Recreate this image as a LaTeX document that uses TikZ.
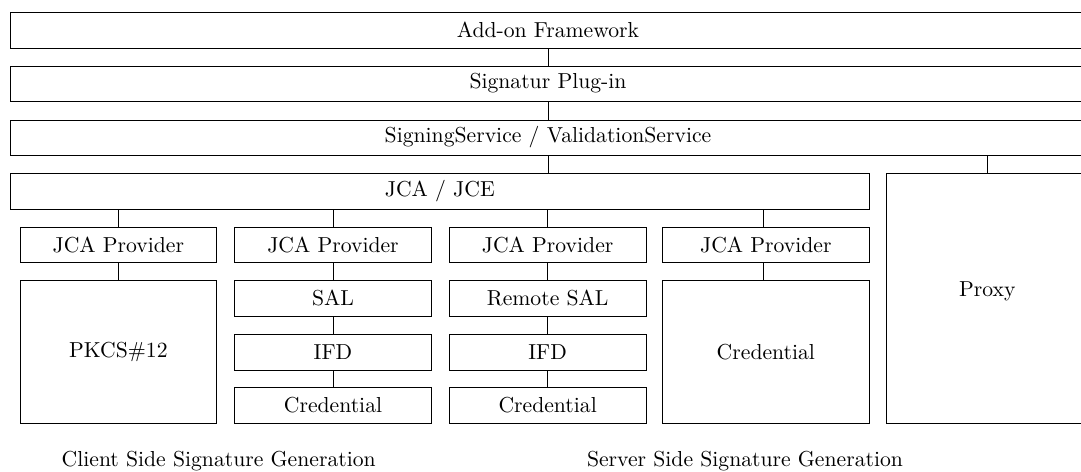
\documentclass[tikz,border=0pt]{standalone}
\usetikzlibrary{fit}
\begin{document}
\begin{tikzpicture}[x=0.4613pt, y=-0.4613pt,
  blk/.style={draw, line width=0.4pt, inner sep=0pt},
  wire/.style={line width=0.4pt}]
\clip (0,0) rectangle (1081,472);

% layered bars across the full width
\node[blk, fit={(10.7,12) (1085.3,48)},  label=center:{Add-on Framework}] (addon) {};
\node[blk, fit={(10.7,66) (1085.3,101)}, label=center:{Signatur Plug-in}] (plugin) {};
\node[blk, fit={(10.7,120) (1085.3,155)}, label=center:{SigningService / ValidationService}] (service) {};
\node[blk, fit={(10.7,173) (869,209)},   label=center:{JCA / JCE}] (jca) {};
\node[blk, fit={(886.7,173) (1088,423)}, label={[yshift=3pt]center:Proxy}] (proxy) {};

% column 1
\node[blk, fit={(20,227.3) (216.7,262.3)}, label=center:{JCA Provider}] (p1) {};
\node[blk, fit={(20,280.3) (216.7,423.3)}, label=center:{PKCS\#12}] (pkcs) {};

% column 2
\node[blk, fit={(234.3,227.3) (431.7,262.3)}, label=center:{JCA Provider}] (p2) {};
\node[blk, fit={(234.3,280.3) (431.7,316)},   label=center:{SAL}] (sal) {};
\node[blk, fit={(234.3,334.3) (431.7,370)},   label=center:{IFD}] (ifd2) {};
\node[blk, fit={(234.3,387.7) (431.7,423.3)}, label=center:{Credential}] (cred2) {};

% column 3
\node[blk, fit={(449.3,227.3) (646,262.3)}, label=center:{JCA Provider}] (p3) {};
\node[blk, fit={(449.3,280.3) (646,316)},   label=center:{Remote SAL}] (rsal) {};
\node[blk, fit={(449.3,334.3) (646,370)},   label=center:{IFD}] (ifd3) {};
\node[blk, fit={(449.3,387.7) (646,423.3)}, label=center:{Credential}] (cred3) {};

% column 4
\node[blk, fit={(662.7,227.3) (869,262.3)}, label=center:{JCA Provider}] (p4) {};
\node[blk, fit={(662.7,280.3) (869,423.3)}, label=center:{Credential}] (cred4) {};
\coordinate (c4) at (763,0);

% connectors
\draw[wire] (addon.south) -- (plugin.north);
\draw[wire] (plugin.south) -- (service.north);
\draw[wire] (service.south) -- (service.south |- jca.north);
\draw[wire] (service.south -| proxy.north) -- (proxy.north);
\draw[wire] (jca.south -| p1.north) -- (p1.north);
\draw[wire] (jca.south -| p2.north) -- (p2.north);
\draw[wire] (jca.south -| p3.north) -- (p3.north);
\draw[wire] (jca.south -| c4) -- (p4.north -| c4);
\draw[wire] (p1.south) -- (pkcs.north);
\draw[wire] (p2.south) -- (sal.north);
\draw[wire] (sal.south) -- (ifd2.north);
\draw[wire] (ifd2.south) -- (cred2.north);
\draw[wire] (p3.south) -- (rsal.north);
\draw[wire] (rsal.south) -- (ifd3.north);
\draw[wire] (ifd3.south) -- (cred3.north);
\draw[wire] (p4.south -| c4) -- (cred4.north -| c4);

% captions
\node[anchor=base] (client) at (218.7,467) {Client Side Signature Generation};
\node[anchor=base] (server) at (745,467) {Server Side Signature Generation};
\end{tikzpicture}
\end{document}
